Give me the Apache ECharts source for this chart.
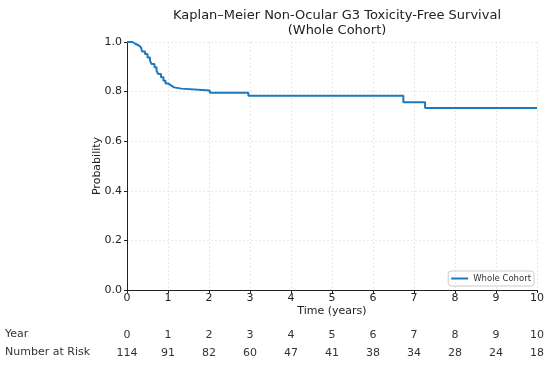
<!DOCTYPE html>
<html><head><meta charset="utf-8">
<script src="https://cdn.jsdelivr.net/npm/echarts@6/dist/echarts.min.js"></script>
<style>html,body{margin:0;padding:0;background:#fff}#c{width:550px;height:366px}</style>
</head><body><div id="c"></div>
<script>
const times = [0, 0.13, 0.21, 0.28, 0.34, 0.37, 0.44, 0.5, 0.56, 0.6, 0.67, 0.72, 0.76, 0.83, 0.89, 0.94, 1.0, 1.07, 1.15, 1.33, 2.02, 2.96, 6.74, 7.27, 10];
const survival = [1.0, 0.992, 0.987, 0.979, 0.973, 0.962, 0.952, 0.938, 0.925, 0.911, 0.898, 0.884, 0.871, 0.858, 0.844, 0.833, 0.825, 0.817, 0.812, 0.804, 0.795, 0.783, 0.757, 0.734, 0.734];
const years = [0,1,2,3,4,5,6,7,8,9,10];
const atRisk = [114, 91, 82, 60, 47, 41, 38, 34, 28, 24, 18];
const seriesName = 'Whole Cohort';

// build step (post) path from the KM data
const stepData = [];
times.forEach((t, i) => {
  if (i > 0) stepData.push([t, survival[i-1]]);
  stepData.push([t, survival[i]]);
});

const font = 'DejaVu Sans';
const lineColor = '#1a79bf';
const chart = echarts.init(document.getElementById('c'), null, {renderer:'canvas'});
const hiddenAxis = (offset, fmt) => ({
  type:'value', min:0, max:10, interval:1, position:'bottom', offset: offset, gridIndex:0,
  axisLine:{show:false}, axisTick:{show:false}, splitLine:{show:false},
  axisLabel:{margin:0, fontFamily:font, fontSize:11, color:'#333', formatter: fmt}
});
chart.setOption({
  animation:false,
  textStyle:{fontFamily:font},
  title:{
    text:'Kaplan–Meier Non-Ocular G3 Toxicity-Free Survival\n(Whole Cohort)',
    left:332, top:3, textAlign:'center',
    textStyle:{fontFamily:font, fontSize:13, fontWeight:'normal', color:'#222', lineHeight:15}
  },
  grid:{left:127, right:13, top:42, bottom:76, containLabel:false},
  legend:{
    right:16, bottom:80, orient:'horizontal',
    data:[seriesName],
    itemWidth:17, itemHeight:2, itemGap:6,
    icon:'rect',
    borderColor:'#ccc', borderWidth:1, borderRadius:3, padding:[3,3,3,3],
    textStyle:{fontFamily:font, fontSize:8.5, color:'#333'}
  },
  xAxis:[{
    type:'value', min:0, max:10, interval:1,
    name:'Time (years)', nameLocation:'middle', nameGap:16, nameMoveOverlap:false,
    nameTextStyle:{fontFamily:font, fontSize:11, color:'#222'},
    axisLine:{show:true, onZero:false, lineStyle:{color:'#222', width:1}},
    axisTick:{show:true, length:3, lineStyle:{color:'#222'}},
    axisLabel:{margin:3, fontFamily:font, fontSize:11, color:'#222'},
    splitLine:{show:true, lineStyle:{color:'#e2e2e2', type:[2,2], width:0.8}}
  },
  hiddenAxis(40, v => years.indexOf(v) >= 0 ? String(v) : ''),
  hiddenAxis(58, v => { const i = years.indexOf(v); return i >= 0 ? String(atRisk[i]) : ''; })
  ],
  yAxis:{
    type:'value', min:0, max:1, interval:0.2,
    name:'Probability', nameLocation:'middle', nameGap:24, nameMoveOverlap:false,
    nameTextStyle:{fontFamily:font, fontSize:11, color:'#222'},
    axisLine:{show:true, lineStyle:{color:'#222', width:1}},
    axisTick:{show:true, length:3, lineStyle:{color:'#222'}},
    axisLabel:{margin:5, fontFamily:font, fontSize:11, color:'#222', formatter: v => v.toFixed(1)},
    splitLine:{show:true, lineStyle:{color:'#e2e2e2', type:[2,2], width:0.8}}
  },
  graphic:[
    {type:'text', left:5, top:329, style:{text:'Year', fontFamily:font, fontSize:11, fill:'#333'}},
    {type:'text', left:5, top:347, style:{text:'Number at Risk', fontFamily:font, fontSize:11, fill:'#333'}}
  ],
  series:[{
    name:seriesName, type:'line', xAxisIndex:0,
    data: stepData,
    showSymbol:false, symbol:'none',
    lineStyle:{color:lineColor, width:2},
    itemStyle:{color:lineColor}
  }]
});
</script></body></html>
